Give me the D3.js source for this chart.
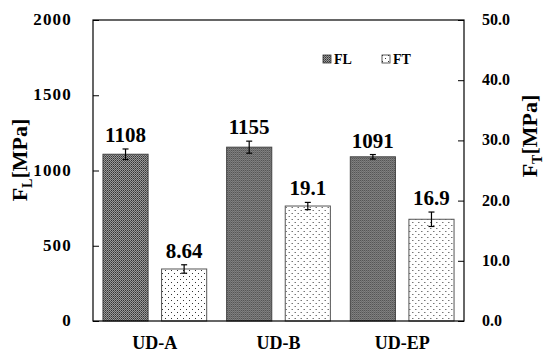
<!DOCTYPE html>
<html lang="en">
<head>
<meta charset="UTF-8">
<title>FL / FT bars</title>
<style>
  body { margin: 0; background: #fff; }
</style>
</head>
<body>
<div id="chart"></div>
<script src="https://d3js.org/d3.v7.min.js"></script>
<script>
const categories = ["UD-A", "UD-B", "UD-EP"];
const flValues = [1108, 1155, 1091];
const flErrors = [35, 40, 15];
const ftValues = [8.64, 19.1, 16.9];
const ftErrors = [0.7, 0.6, 1.2];
const flLabels = ["1108", "1155", "1091"];
const ftLabels = ["8.64", "19.1", "16.9"];
const leftTicks = [0, 500, 1000, 1500, 2000];
const rightTicks = [0, 10, 20, 30, 40, 50];

const width = 546, height = 356;
const margin = {top: 20, right: 82, bottom: 35, left: 93};
const FONT = "Liberation Serif";

const svg = d3.select("#chart").append("svg")
  .attr("width", width)
  .attr("height", height);

const txt = sel => sel.attr("font-family", FONT).attr("font-weight", "bold").attr("fill", "#000");

const defs = svg.append("defs");

// dense dark pattern for FL
const p1 = defs.append("pattern").attr("id", "flPat")
  .attr("patternUnits", "userSpaceOnUse").attr("width", 2).attr("height", 2);
p1.append("rect").attr("width", 2).attr("height", 2).attr("fill", "#9a9a9a");
p1.append("rect").attr("width", 1).attr("height", 1).attr("fill", "#333");
p1.append("rect").attr("x", 1).attr("y", 1).attr("width", 1).attr("height", 1).attr("fill", "#555");

// sparse dots for FT
const p2 = defs.append("pattern").attr("id", "ftPat")
  .attr("patternUnits", "userSpaceOnUse").attr("width", 6).attr("height", 6);
p2.append("rect").attr("width", 6).attr("height", 6).attr("fill", "#fff");
p2.append("rect").attr("x", 0).attr("y", 0).attr("width", 1).attr("height", 1).attr("fill", "#333");
p2.append("rect").attr("x", 3).attr("y", 3).attr("width", 1).attr("height", 1).attr("fill", "#333");

const x0 = d3.scaleBand()
  .domain(categories)
  .range([margin.left, width - margin.right]);

const x1 = d3.scaleBand()
  .domain(["FL", "FT"])
  .range([0, x0.bandwidth()])
  .paddingInner(0.23)
  .paddingOuter(0.17);

const yL = d3.scaleLinear().domain([0, 2000]).range([height - margin.bottom, margin.top]);
const yR = d3.scaleLinear().domain([0, 50]).range([height - margin.bottom, margin.top]);

const rows = categories.map((c, i) => ({
  cat: c,
  bars: [
    {key: "FL", v: flValues[i], e: flErrors[i], lab: flLabels[i], y: yL, fill: "url(#flPat)", stroke: "#444"},
    {key: "FT", v: ftValues[i], e: ftErrors[i], lab: ftLabels[i], y: yR, fill: "url(#ftPat)", stroke: "#555"}
  ]
}));

const g = svg.append("g");
const groups = g.selectAll("g.grp").data(rows).join("g")
  .attr("class", "grp")
  .attr("transform", d => `translate(${x0(d.cat)},0)`);

const bars = groups.selectAll("g.bar").data(d => d.bars).join("g").attr("class", "bar");

bars.append("rect")
  .attr("x", d => x1(d.key))
  .attr("y", d => d.y(d.v))
  .attr("width", x1.bandwidth())
  .attr("height", d => d.y(0) - d.y(d.v))
  .attr("fill", d => d.fill)
  .attr("stroke", d => d.stroke)
  .attr("stroke-width", 1);

// error bars
bars.each(function(d) {
  const cx = x1(d.key) + x1.bandwidth() / 2;
  const s = d3.select(this).append("g").attr("stroke", "#000").attr("stroke-width", 1.2);
  s.append("line").attr("x1", cx).attr("x2", cx).attr("y1", d.y(d.v + d.e)).attr("y2", d.y(d.v - d.e));
  s.append("line").attr("x1", cx - 3).attr("x2", cx + 3).attr("y1", d.y(d.v + d.e)).attr("y2", d.y(d.v + d.e));
  s.append("line").attr("x1", cx - 3).attr("x2", cx + 3).attr("y1", d.y(d.v - d.e)).attr("y2", d.y(d.v - d.e));
});

bars.append("text").call(txt)
  .attr("x", d => x1(d.key) + x1.bandwidth() / 2)
  .attr("y", d => d.y(d.v + d.e) - 7)
  .attr("text-anchor", "middle")
  .attr("font-size", 21)
  .text(d => d.lab);

// frame
const plotH = height - margin.bottom;
svg.append("rect")
  .attr("x", margin.left).attr("y", margin.top)
  .attr("width", width - margin.right - margin.left)
  .attr("height", plotH - margin.top)
  .attr("fill", "none").attr("stroke", "#000").attr("stroke-width", 1.2);

// left axis (ticks inward)
const axL = svg.append("g").attr("transform", `translate(${margin.left},0)`)
  .call(d3.axisRight(yL).tickValues(leftTicks).tickSize(6).tickFormat(""));
axL.select(".domain").remove();
svg.append("g").selectAll("text").data(leftTicks).join("text").call(txt)
  .attr("x", 72).attr("y", d => yL(d) + 5)
  .attr("text-anchor", "end").attr("font-size", 17).attr("letter-spacing", 1.2)
  .text(d => d);

// right axis (ticks inward)
const axR = svg.append("g").attr("transform", `translate(${width - margin.right},0)`)
  .call(d3.axisLeft(yR).tickValues(rightTicks).tickSize(6).tickFormat(""));
axR.select(".domain").remove();
svg.append("g").selectAll("text").data(rightTicks).join("text").call(txt)
  .attr("x", 482).attr("y", d => yR(d) + 5)
  .attr("text-anchor", "start").attr("font-size", 16)
  .text(d => d.toFixed(1));

// category labels
svg.append("g").selectAll("text").data(categories).join("text").call(txt)
  .attr("x", d => x0(d) + x0.bandwidth() / 2)
  .attr("y", 349)
  .attr("text-anchor", "middle").attr("font-size", 18)
  .text(d => d);

// axis titles
const tL = svg.append("text").call(txt)
  .attr("transform", "translate(27,160) rotate(-90)")
  .attr("text-anchor", "middle").attr("font-size", 22);
tL.append("tspan").text("F");
tL.append("tspan").attr("font-size", 14).attr("dy", 5).text("L");
tL.append("tspan").attr("dy", -5).text("[MPa]");

const tR = svg.append("text").call(txt)
  .attr("transform", "translate(537,136) rotate(-90)")
  .attr("text-anchor", "middle").attr("font-size", 22);
tR.append("tspan").text("F");
tR.append("tspan").attr("font-size", 14).attr("dy", 5).text("T");
tR.append("tspan").attr("dy", -5).text("[MPa]");

// legend
const legend = [{k: "FL", fill: "url(#flPat)", x: 323}, {k: "FT", fill: "url(#ftPat)", x: 382}];
const lg = svg.append("g").selectAll("g").data(legend).join("g")
  .attr("transform", d => `translate(${d.x},55)`);
lg.append("rect").attr("width", 8).attr("height", 8)
  .attr("fill", d => d.fill).attr("stroke", "#333").attr("stroke-width", 0.8);
lg.append("text").call(txt).attr("x", 11).attr("y", 9).attr("font-size", 14).text(d => d.k);
</script>
</body>
</html>
